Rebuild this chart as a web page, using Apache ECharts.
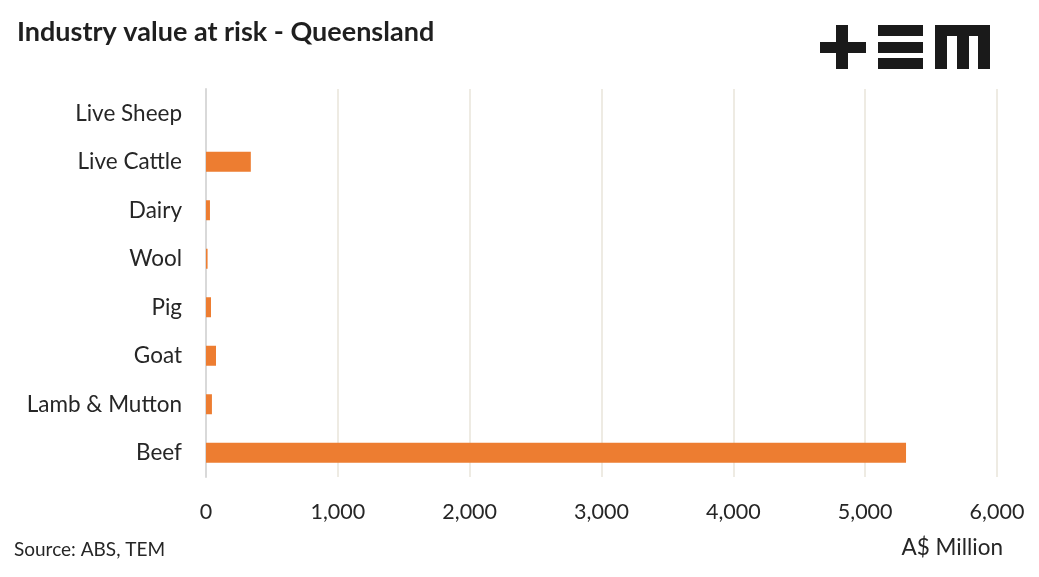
<!DOCTYPE html>
<html><head><meta charset="utf-8">
<script src="https://cdn.jsdelivr.net/npm/echarts@6/dist/echarts.min.js"></script>
<style>html,body{margin:0;padding:0;background:#fff}#c{width:1039px;height:577px}</style>
</head><body><div id="c"></div>
<script>
const categories = ["Beef", "Lamb & Mutton", "Goat", "Pig", "Wool", "Dairy", "Live Cattle", "Live Sheep"];
const values = [5310, 45, 76, 38, 12, 30, 340, 0];
const xTicks = [0, 1000, 2000, 3000, 4000, 5000, 6000];
const FONT = "Lato, 'Open Sans', sans-serif";
const chart = echarts.init(document.getElementById('c'), null, {renderer: 'canvas'});
const dark = '#1a1a1a';
chart.setOption({
  animation: false,
  title: {text: 'Industry value at risk - Queensland', left: 12, top: 14,
    textStyle: {fontFamily: FONT, fontSize: 27, fontWeight: 'bold', color: '#1f1f1f'}},
  grid: {left: 206, right: 42, top: 89, bottom: 100, containLabel: false},
  xAxis: {type: 'value', min: xTicks[0], max: xTicks[xTicks.length-1], interval: 1000,
    axisLine: {show: false}, axisTick: {show: false},
    splitLine: {show: true, lineStyle: {color: '#e9e5da', width: 1.5}},
    axisLabel: {fontFamily: FONT, fontSize: 21.5, color: '#262626', margin: 24,
      formatter: v => v.toLocaleString('en-US')}},
  yAxis: {type: 'category', data: categories,
    axisLine: {show: true, lineStyle: {color: '#d9d9d9', width: 2}},
    axisTick: {show: false},
    axisLabel: {fontFamily: FONT, fontSize: 22.5, color: '#262626', margin: 24}},
  series: [{type: 'bar', data: values, barWidth: 20,
    itemStyle: {color: '#ed7d31'}}],
  graphic: [
    {type: 'text', left: 14, top: 540, style: {text: 'Source: ABS, TEM', font: '19px ' + FONT, fill: '#262626'}},
    {type: 'text', right: 36, top: 536, style: {text: 'A$ Million', font: '22.5px ' + FONT, fill: '#262626'}},
    {type: 'group', left: 820, top: 25, children: [
      {type: 'rect', shape: {x: 16, y: 0, width: 12, height: 44}, style: {fill: dark}},
      {type: 'rect', shape: {x: 0, y: 17, width: 46, height: 11}, style: {fill: dark}},
      {type: 'rect', shape: {x: 58, y: 0, width: 45, height: 11}, style: {fill: dark}},
      {type: 'rect', shape: {x: 58, y: 17, width: 45, height: 11}, style: {fill: dark}},
      {type: 'rect', shape: {x: 58, y: 33, width: 45, height: 11}, style: {fill: dark}},
      {type: 'rect', shape: {x: 115, y: 0, width: 55, height: 11}, style: {fill: dark}},
      {type: 'rect', shape: {x: 115, y: 0, width: 12, height: 44}, style: {fill: dark}},
      {type: 'rect', shape: {x: 137, y: 0, width: 12, height: 44}, style: {fill: dark}},
      {type: 'rect', shape: {x: 158, y: 0, width: 12, height: 44}, style: {fill: dark}}
    ]}
  ]
});
</script></body></html>
